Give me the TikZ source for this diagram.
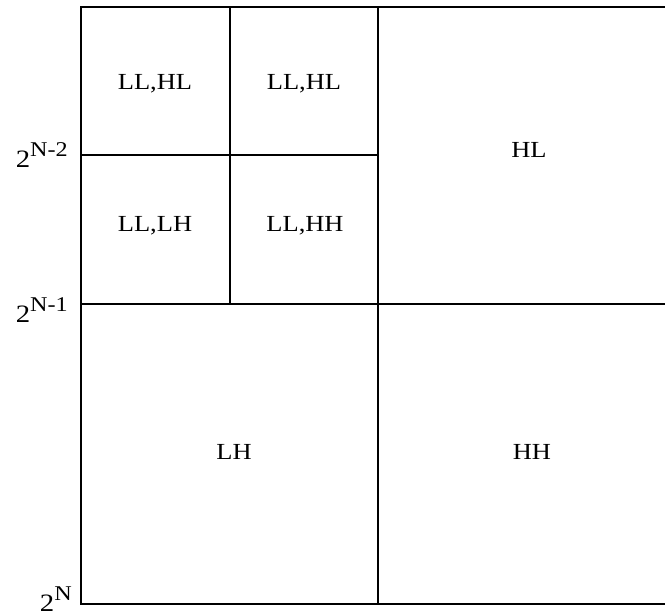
\documentclass[tikz,border=0pt]{standalone}
\usepackage{fontspec}
\usepackage{graphicx}
\setmainfont{Liberation Serif}
% wide-set text, as in the printed figure
\newcommand\wide[1]{\scalebox{1.15}[1]{#1}}
% power-of-two scale mark: large base, raised exponent
\newcommand\powtwo[1]{\wide{{\fontsize{25}{30}\selectfont 2}\raisebox{11pt}{\fontsize{21}{25}\selectfont #1}}}
\begin{document}
\begin{tikzpicture}[x=1pt,y=-1pt,
  grid line/.style={line width=1.5pt},
  band/.style={font=\fontsize{23}{28}\selectfont, inner sep=0pt, anchor=base},
  scale mark/.style={inner sep=0pt, anchor=base east}]
\useasboundingbox (0,0) rectangle (665,615);
% frame (open on the right) and subband partition
\draw[grid line] (665,7) -- (81,7) -- (81,604) -- (665,604);
\draw[grid line] (81,304) -- (665,304);
\draw[grid line] (378,7) -- (378,604);
\draw[grid line] (81,155) -- (378,155);
\draw[grid line] (230,7) -- (230,304);
% subband names
\node[band] (llhlA) at (155,90) {\wide{LL,HL}};
\node[band] (llhlB) at (304,90) {\wide{LL,HL}};
\node[band] (lllh) at (155,232) {\wide{LL,LH}};
\node[band] (llhh) at (305,232) {\wide{LL,HH}};
\node[band] (hl) at (529,158) {\wide{HL}};
\node[band] (lh) at (234,459) {\wide{LH}};
\node[band] (hh) at (532,459) {\wide{HH}};
% scale marks on the left edge
\node[scale mark] (s2) at (68,168) {\powtwo{N-2}};
\node[scale mark] (s1) at (68,323) {\powtwo{N-1}};
\node[scale mark] (s0) at (72,611) {\powtwo{N}};
\end{tikzpicture}
\end{document}
